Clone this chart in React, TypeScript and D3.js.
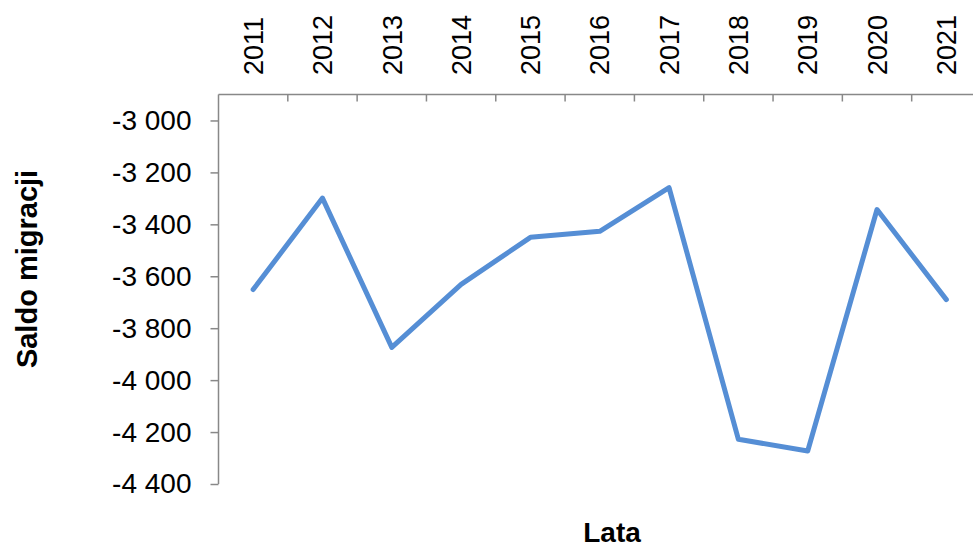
import React, { useEffect, useRef } from "react";
import * as d3 from "d3";

const years = ["2011", "2012", "2013", "2014", "2015", "2016", "2017", "2018", "2019", "2020", "2021"];
const saldo = [-3651, -3299, -3874, -3631, -3450, -3427, -3259, -4228, -4273, -3343, -3690];
const yTicks = [-3000, -3200, -3400, -3600, -3800, -4000, -4200, -4400];

const W = 973;
const H = 547;
const FONT = "'Liberation Sans', Arial, sans-serif";
const AXIS_COLOR = "#888888";
const LINE_COLOR = "#558ED5";

const App: React.FC = () => {
    const svgRef = useRef<SVGSVGElement>(null);

    useEffect(() => {
        if (!svgRef.current) return;
        const svg = d3.select(svgRef.current);
        svg.selectAll("*").remove();

        const plot = { left: 218.5, right: 981, top: 94.5, bottom: 484 };

        const x = d3.scaleBand<string>()
            .domain(years)
            .range([plot.left, plot.right])
            .padding(0);

        const y = d3.scaleLinear()
            .domain([-4400, -2900])
            .range([plot.bottom, plot.top]);

        // polish number format: space as thousands separator
        const locale = d3.formatLocale({
            decimal: ",",
            thousands: "\u00a0",
            grouping: [3],
            currency: ["", ""],
            minus: "-",
        });
        const fmt = locale.format(",d");

        // y axis
        const yAxis = svg.append("g")
            .attr("transform", `translate(${plot.left},0)`)
            .call(d3.axisLeft(y).tickValues(yTicks).tickSize(8).tickPadding(19).tickFormat(d => fmt(d as number)));
        yAxis.select(".domain").remove();
        yAxis.selectAll(".tick line").attr("stroke", AXIS_COLOR).attr("stroke-width", 1.5);
        yAxis.selectAll(".tick text")
            .attr("fill", "#000")
            .style("font-family", FONT)
            .style("font-size", "28px");

        svg.append("line")
            .attr("x1", plot.left).attr("x2", plot.left)
            .attr("y1", plot.top).attr("y2", plot.bottom)
            .attr("stroke", AXIS_COLOR)
            .attr("stroke-width", 1.5);

        // x axis on top, ticks between categories pointing down
        svg.append("line")
            .attr("x1", plot.left).attr("x2", plot.right)
            .attr("y1", plot.top).attr("y2", plot.top)
            .attr("stroke", AXIS_COLOR)
            .attr("stroke-width", 1.5);

        svg.append("g")
            .selectAll("line")
            .data(years.slice(1))
            .enter()
            .append("line")
            .attr("x1", d => x(d) || 0)
            .attr("x2", d => x(d) || 0)
            .attr("y1", plot.top)
            .attr("y2", plot.top + 7)
            .attr("stroke", AXIS_COLOR)
            .attr("stroke-width", 1.5);

        svg.append("g")
            .selectAll("text")
            .data(years)
            .enter()
            .append("text")
            .attr("transform", d => `translate(${(x(d) || 0) + x.bandwidth() / 2},75) rotate(-90)`)
            .attr("dy", "0.36em")
            .attr("text-anchor", "start")
            .style("font-family", FONT)
            .style("font-size", "27px")
            .text(d => d);

        // the line
        const line = d3.line<number>()
            .x((_, i) => (x(years[i]) || 0) + x.bandwidth() / 2)
            .y(d => y(d));

        svg.append("path")
            .datum(saldo)
            .attr("d", line)
            .attr("fill", "none")
            .attr("stroke", LINE_COLOR)
            .attr("stroke-width", 5)
            .attr("stroke-linejoin", "round")
            .attr("stroke-linecap", "round");

        // axis titles
        svg.append("text")
            .attr("transform", `translate(27,269) rotate(-90)`)
            .attr("dy", "0.36em")
            .attr("text-anchor", "middle")
            .style("font-family", FONT)
            .style("font-size", "29px")
            .style("font-weight", "bold")
            .text("Saldo migracji");

        svg.append("text")
            .attr("x", 612)
            .attr("y", 542)
            .attr("text-anchor", "middle")
            .style("font-family", FONT)
            .style("font-size", "28px")
            .style("font-weight", "bold")
            .text("Lata");
    }, []);

    return (
        <svg
            ref={svgRef}
            width={W}
            height={H}
            style={{ position: "absolute", top: 0, left: 0, background: "#fff" }}
        ></svg>
    );
};

export default App;
